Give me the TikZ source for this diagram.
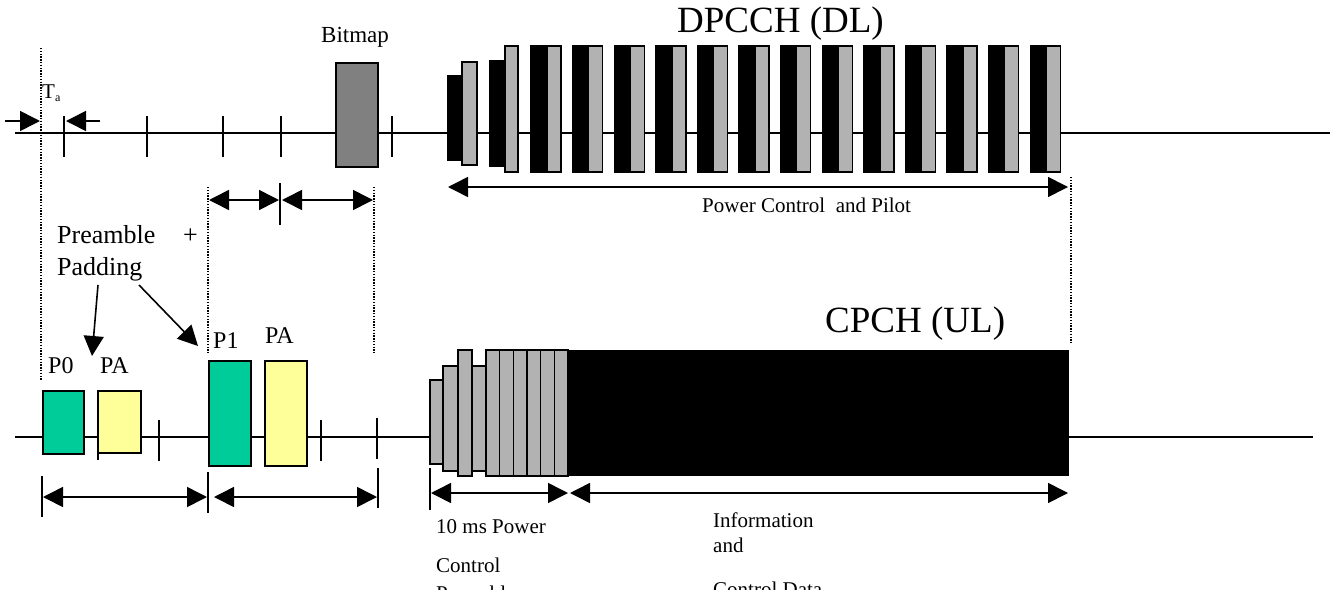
\documentclass[tikz,border=0pt]{standalone}
\usepackage{fontspec}
\setmainfont{Liberation Serif}
\usetikzlibrary{arrows.meta}
\definecolor{pgreen}{RGB}{0,204,153}
\definecolor{pyellow}{RGB}{255,255,153}
\definecolor{lgray}{RGB}{178,178,178}
\definecolor{dgray}{RGB}{128,128,128}
\begin{document}
\begin{tikzpicture}[x=1pt,y=-1pt,
  ln/.style={line width=1.6pt},
  tickln/.style={line width=1.6pt},
  dotln/.style={line width=1.4pt,dash pattern=on 1.4pt off 1.4pt},
  dimarrow/.style={line width=1.6pt,{Triangle[length=20pt,width=20pt]}-{Triangle[length=20pt,width=20pt]}},
  sarrow/.style={line width=1.6pt,-{Triangle[length=20pt,width=20pt]}},
  blk/.style={draw=black,line width=1.4pt},
  lbl/.style={inner sep=0pt,anchor=base west},
  small/.style={font=\fontsize{21}{24}\selectfont},
  mid/.style={font=\fontsize{24}{28}\selectfont},
  big/.style={font=\fontsize{37}{42}\selectfont}
]
\useasboundingbox (0,0) rectangle (1337,589);
\clip (0,0) rectangle (1337,589);

% ---------- top (DL) timeline ----------
\coordinate (tl0) at (15,133);
\coordinate (tl1) at (1330,133);
\draw[ln] (tl0) -- (tl1);
\foreach \x in {64,147,223,281,392} \draw[tickln] (\x,116) -- (\x,157);

% T_a markers
\draw[dotln] (41,48) -- (41,380);
\coordinate (ta0) at (5,121);
\coordinate (ta1) at (40,121);
\coordinate (tb0) at (100,121);
\coordinate (tb1) at (66,121);
\draw[sarrow] (ta0) -- (ta1);
\draw[sarrow] (tb0) -- (tb1);
\node[lbl,font=\fontsize{21}{24}\selectfont] (ta) at (42,98) {T\raisebox{-3pt}{\fontsize{12}{14}\selectfont a}};

% Bitmap
\draw[blk,fill=dgray] (336,63) rectangle (378,167);
\node[lbl,font=\fontsize{23}{26}\selectfont] (bitmap) at (321,42) {Bitmap};

% DPCCH blocks
\draw[blk,fill=black] (448,76) rectangle (462,160);
\draw[blk,fill=lgray] (462,62) rectangle (477,165);
\draw[blk,fill=black] (490,61) rectangle (505,166);
\draw[blk,fill=lgray] (505,46) rectangle (518,172);
\foreach \i in {0,...,12}{
  \pgfmathsetmacro\xa{531+41.6*\i}
  \draw[blk,fill=black] (\xa,46) rectangle ({\xa+16},172);
  \draw[blk,fill=lgray] ({\xa+16},46) rectangle ({\xa+30},172);
}
\node[lbl,big] (dpcch) at (677,32) {DPCCH (DL)};

% Power control and pilot arrow
\coordinate (pc0) at (448,187);
\coordinate (pc1) at (1068,187);
\draw[dimarrow] (pc0) -- (pc1);
\node[lbl,small] (pcl) at (702,212) {Power Control\ \ and Pilot};
\draw[dotln] (1071,177) -- (1071,343);

% middle dimension arrows
\draw[dotln] (208,187) -- (208,353);
\draw[dotln] (374,187) -- (374,353);
\draw[tickln] (280,183) -- (280,225);
\coordinate (m0) at (209,200);
\coordinate (m1) at (279,200);
\coordinate (m2) at (282,200);
\coordinate (m3) at (373,200);
\draw[dimarrow] (m0) -- (m1);
\draw[dimarrow] (m2) -- (m3);

% Preamble + Padding
\node[lbl,font=\fontsize{26}{30}\selectfont] (pre) at (57,243) {Preamble};
\node[lbl,font=\fontsize{26}{30}\selectfont] (plus) at (183,243) {+};
\node[lbl,font=\fontsize{26}{30}\selectfont] (pad) at (57,275) {Padding};
\coordinate (pa0) at (98,285);
\coordinate (pa1) at (92,356);
\coordinate (pb0) at (139,285);
\coordinate (pb1) at (198,346);
\draw[sarrow] (pa0) -- (pa1);
\draw[sarrow] (pb0) -- (pb1);

% ---------- bottom (UL) timeline ----------
\coordinate (bl0) at (15,437);
\coordinate (bl1) at (1313,437);
\draw[ln] (bl0) -- (bl1);
\draw[tickln] (98,418) -- (98,460);
\foreach \x in {159,321} \draw[tickln] (\x,420) -- (\x,461);
\draw[tickln] (377,418) -- (377,459);

\draw[blk,fill=pgreen] (43,391) rectangle (84,454);
\draw[blk,fill=pyellow] (98,391) rectangle (141,453);
\draw[blk,fill=pgreen] (209,361) rectangle (251,466);
\draw[blk,fill=pyellow] (265,361) rectangle (307,466);
\node[lbl,mid] (p0) at (48,373) {P0};
\node[lbl,mid] (pa) at (100,373) {PA};
\node[lbl,mid] (p1) at (213,348) {P1};
\node[lbl,mid] (pab) at (265,343) {PA};

% lower dimension arrows
\draw[tickln] (42,476) -- (42,517);
\draw[tickln] (208,472) -- (208,513);
\draw[tickln] (378,468) -- (378,508);
\coordinate (d0) at (43,497);
\coordinate (d1) at (207,497);
\coordinate (d2) at (214,497);
\coordinate (d3) at (377,497);
\draw[dimarrow] (d0) -- (d1);
\draw[dimarrow] (d2) -- (d3);

% CPCH blocks
\draw[blk,fill=lgray] (430,380) rectangle (443,464);
\draw[blk,fill=lgray] (443,366) rectangle (458,471);
\draw[blk,fill=lgray] (458,350) rectangle (472,476);
\draw[blk,fill=lgray] (472,366) rectangle (486,471);
\foreach \i in {0,...,5}{
  \pgfmathsetmacro\xa{486+13.67*\i}
  \draw[blk,fill=lgray] (\xa,350) rectangle ({\xa+13.67},476);
}
\fill[black] (568,350) rectangle (1069,476);
\node[lbl,big] (cpch) at (825,332) {CPCH (UL)};

% CPCH dimension arrows
\draw[tickln] (430,468) -- (430,510);
\coordinate (c0) at (431,493);
\coordinate (c1) at (568,493);
\coordinate (c2) at (570,493);
\coordinate (c3) at (1068,493);
\draw[dimarrow] (c0) -- (c1);
\draw[dimarrow] (c2) -- (c3);

\node[lbl,small] (ms1) at (436,533) {10 ms Power};
\node[lbl,small] (ms2) at (436,572) {Control};
\node[lbl,small] (ms3) at (436,600) {Preamble};
\node[lbl,small] (in1) at (713,527) {Information};
\node[lbl,small] (in2) at (713,552) {and};
\node[lbl,small] (in3) at (713,596) {Control Data};
\end{tikzpicture}
\end{document}
